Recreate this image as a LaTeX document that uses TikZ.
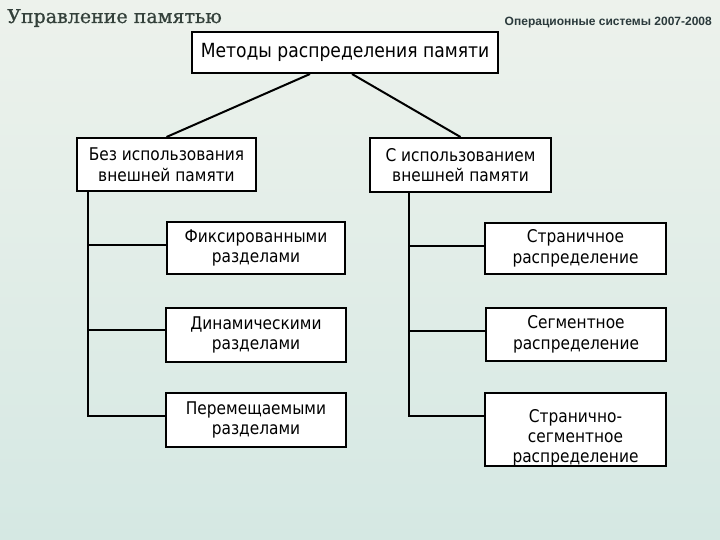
\documentclass[tikz,border=0pt]{standalone}
\usepackage{fontspec}
\setmainfont{DejaVu Sans}[FakeStretch=0.88]
\newfontfamily\titlefont{DejaVu Serif}[FakeBold=0.8]
\newfontfamily\hdrfont{Liberation Sans}
\definecolor{bgtop}{HTML}{EDF2EC}
\definecolor{bgbot}{HTML}{D5E8E3}
\definecolor{titlecol}{HTML}{34413B}
\definecolor{hdrcol}{HTML}{2B3A3C}
\begin{document}
\begin{tikzpicture}[x=1pt,y=-1pt,
  box/.style={draw=black, line width=2pt, fill=white, inner sep=0pt, align=center,
    font=\fontsize{17.5}{20.5}\selectfont},
  conn/.style={draw=black, line width=2pt}]
\useasboundingbox (0,0) rectangle (720,540);
\shade[top color=bgtop, bottom color=bgbot] (0,0) rectangle (720,540);

\node[anchor=base west, text=titlecol, font=\titlefont\fontsize{19}{22}\selectfont, inner sep=0pt] (title) at (7,23) {Управление памятью};
\node[anchor=base east, text=hdrcol, font=\hdrfont\bfseries\fontsize{12}{14}\selectfont, inner sep=0pt] (hdr) at (712,26) {Операционные системы 2007-2008};

\node[box, minimum width=306pt, minimum height=41pt, font=\fontsize{19.5}{22}\selectfont] (top) at (345,52.5) {Методы распределения памяти};

\node[box, minimum width=179pt, minimum height=53pt] (b1) at (166.5,164.5) {Без использования\\внешней памяти};
\node[box, minimum width=181pt, minimum height=54pt] (b2) at (460.5,165) {С использованием\\внешней памяти};

\node[box, minimum width=178pt, minimum height=52pt] (f) at (256,248) {Фиксированными\\разделами};
\node[box, minimum width=180pt, minimum height=54pt] (d) at (256,335) {Динамическими\\разделами};
\node[box, minimum width=180pt, minimum height=54pt] (p) at (256,420) {Перемещаемыми\\разделами};

\node[box, minimum width=181pt, minimum height=51pt] (s) at (575.5,248.5) {Страничное\\распределение};
\node[box, minimum width=180pt, minimum height=53pt] (sg) at (576,334.5) {Сегментное\\распределение};
\node[box, minimum width=181pt, minimum height=73pt] (ps) at (575.5,429.5) {};
\node[align=center, inner sep=0pt, font=\fontsize{17.5}{20}\selectfont] (pst) at ([yshift=-8pt]ps.center) {Странично-\\сегментное\\распределение};

\draw[conn] ([xshift=-35pt]top.south) -- (b1.north);
\draw[conn] ([xshift=7pt]top.south) -- (b2.north);

\coordinate (v1) at ([xshift=12pt]b1.south west);
\coordinate (v2) at ([xshift=40pt]b2.south west);
\coordinate (fe) at ([yshift=3pt]f.west);
\coordinate (de) at ([yshift=5pt]d.west);
\coordinate (pe) at ([yshift=4pt]p.west);
\coordinate (se) at ([yshift=3pt]s.west);
\coordinate (sge) at ([yshift=4pt]sg.west);
\coordinate (pse) at ([yshift=14pt]ps.west);

\draw[conn] (v1) |- (pe);
\draw[conn] (v1 |- fe) -- (fe);
\draw[conn] (v1 |- de) -- (de);

\draw[conn] (v2) |- (pse);
\draw[conn] (v2 |- se) -- (se);
\draw[conn] (v2 |- sge) -- (sge);
\end{tikzpicture}
\end{document}
